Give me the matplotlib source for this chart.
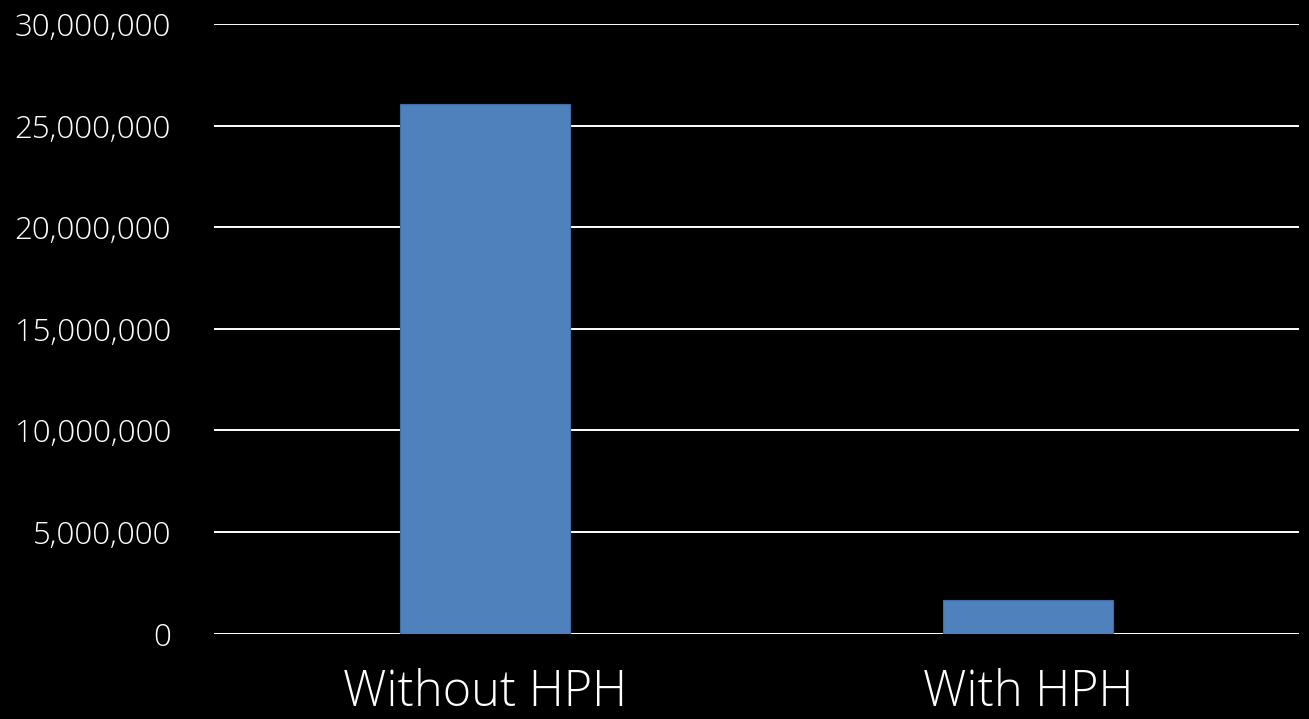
import matplotlib
matplotlib.use('Agg')
import matplotlib.pyplot as plt
from matplotlib.ticker import FuncFormatter

plt.rcParams['font.family'] = ['Open Sans', 'Noto Sans CJK KR', 'DejaVu Sans']
plt.rcParams['font.weight'] = 'light'

categories = ['Without HPH', 'With HPH']
values = [26080000, 1650000]
yticks = [0, 5000000, 10000000, 15000000, 20000000, 25000000, 30000000]

fig = plt.figure(figsize=(13.09, 7.19), dpi=100, facecolor='black')
ax = fig.add_axes([214/1309, 1 - 633.5/719, 1085/1309, 609.5/719])
ax.set_facecolor('black')

ax.bar(range(len(categories)), values, width=0.313, color='#4F81BD',
       edgecolor='#3E6DA6', linewidth=0.8, zorder=3)

ax.set_xlim(-0.5, 1.5)
ax.set_ylim(0, 30000000)
ax.set_yticks(yticks)
ax.yaxis.set_major_formatter(FuncFormatter(lambda v, p: '{:,.0f}'.format(v)))
ax.grid(axis='y', color='white', linewidth=1.4, zorder=1)
ax.set_axisbelow(True)

ax.set_xticks(range(len(categories)))
ax.set_xticklabels(categories)
ax.tick_params(axis='x', length=0, labelsize=35, colors='white', pad=25)
ax.tick_params(axis='y', length=0, labelsize=22.5, colors='white', pad=31)
for s in ax.spines.values():
    s.set_visible(False)

fig.savefig('out.png', dpi=100, facecolor='black')
